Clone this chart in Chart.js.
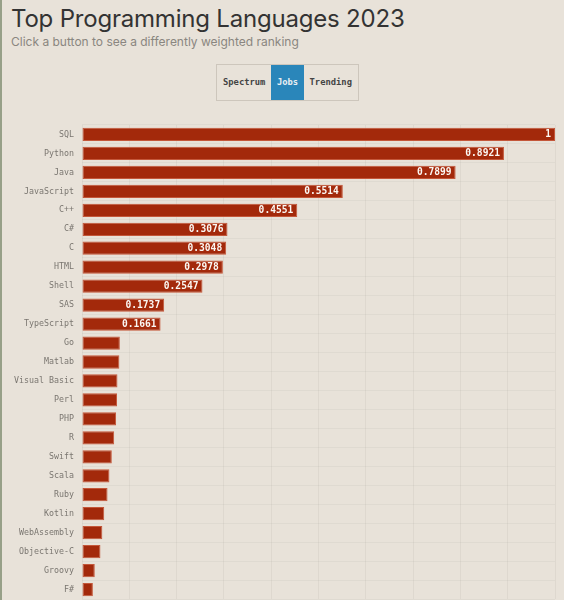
<!DOCTYPE html>
<html>
<head>
<meta charset="utf-8">
<script src="https://cdn.jsdelivr.net/npm/chart.js@4"></script>
<style>
  html, body { margin: 0; padding: 0; }
  body {
    width: 564px; height: 600px; overflow: hidden;
    background: #e8e2d9;
    border-left: 2px solid #97a088;
    box-sizing: border-box;
    position: relative;
    font-family: "Inter", "Liberation Sans", sans-serif;
  }
  h1 {
    position: absolute; left: 9px; top: 4px; margin: 0;
    font-size: 24px; font-weight: 400; color: #333; letter-spacing: -0.2px;
  }
  .sub {
    position: absolute; left: 9px; top: 34px;
    font-size: 12px; color: #8a8680;
  }
  .btns {
    position: absolute; left: 214px; top: 64px; height: 35px;
    border: 1px solid #cdc6bc; display: flex;
  }
  .btns span {
    font-family: "DejaVu Sans Mono", monospace; font-weight: bold;
    font-size: 8.8px; color: #444; line-height: 35px; padding: 0 6px;
  }
  .btns span.on { background: #2a86ba; color: #e8eef2; padding: 0 5.5px; }
  #wrap { position: absolute; left: -2px; top: 112px; width: 564px; height: 500px; }
</style>
</head>
<body>
<h1>Top Programming Languages 2023</h1>
<div class="sub">Click a button to see a differently weighted ranking</div>
<div class="btns"><span>Spectrum</span><span class="on">Jobs</span><span>Trending</span></div>
<div id="wrap"><canvas id="chart"></canvas></div>
<script>
const languages = ["SQL", "Python", "Java", "JavaScript", "C++", "C#", "C", "HTML", "Shell", "SAS",
  "TypeScript", "Go", "Matlab", "Visual Basic", "Perl", "PHP", "R", "Swift", "Scala", "Ruby",
  "Kotlin", "WebAssembly", "Objective-C", "Groovy", "F#"];
const jobsScores = [1, 0.8921, 0.7899, 0.5514, 0.4551, 0.3076, 0.3048, 0.2978, 0.2547, 0.1737,
  0.1661, 0.080, 0.079, 0.075, 0.074, 0.072, 0.068, 0.063, 0.058, 0.054,
  0.047, 0.043, 0.039, 0.027, 0.023];
const labelCutoff = 0.1;

// draw value text at the inside end of the longer bars
const valueLabels = {
  id: "valueLabels",
  afterDatasetsDraw(chart) {
    const ctx = chart.ctx;
    const meta = chart.getDatasetMeta(0);
    ctx.save();
    ctx.font = "bold 9.6px 'DejaVu Sans Mono', monospace";
    ctx.fillStyle = "#fbf8f4";
    ctx.textAlign = "right";
    ctx.textBaseline = "middle";
    meta.data.forEach((bar, i) => {
      const v = jobsScores[i];
      if (v < labelCutoff) return;
      ctx.fillText(String(v), bar.x - 4, bar.y + 0.5);
    });
    ctx.restore();
  }
};

new Chart(document.getElementById("chart"), {
  type: "bar",
  data: {
    labels: languages,
    datasets: [{
      data: jobsScores,
      backgroundColor: "#a3290b",
      borderColor: "#c4573a",
      borderWidth: 1,
      borderSkipped: false,
      categoryPercentage: 1,
      barPercentage: 0.7
    }]
  },
  options: {
    indexAxis: "y",
    responsive: true,
    maintainAspectRatio: false,
    animation: false,
    layout: { padding: { left: 0, right: 9, top: 2, bottom: 0 } },
    plugins: { legend: { display: false }, tooltip: { enabled: false } },
    scales: {
      x: {
        min: 0, max: 1,
        ticks: { display: false, stepSize: 0.1 },
        grid: { color: "rgba(0,0,0,0.045)", drawTicks: false },
        border: { display: false }
      },
      y: {
        afterFit(scale) { scale.width = 82; },
        ticks: {
          padding: 8,
          color: "#7a7670",
          font: { family: "'DejaVu Sans Mono', monospace", size: 8.3 }
        },
        grid: { color: "rgba(0,0,0,0.035)", drawTicks: false },
        border: { display: false }
      }
    }
  },
  plugins: [valueLabels]
});
</script>
</body>
</html>
